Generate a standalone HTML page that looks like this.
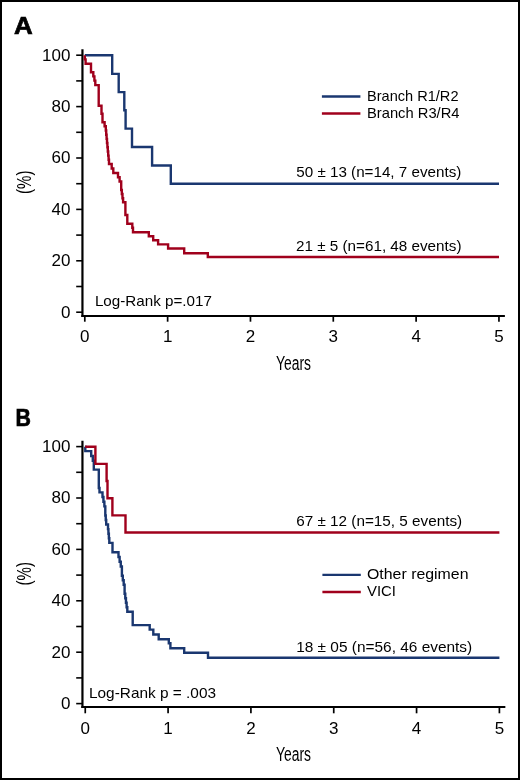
<!DOCTYPE html>
<html><head><meta charset="utf-8"><style>
html,body{margin:0;padding:0;background:#fff;}
body{width:520px;height:780px;overflow:hidden;}
svg{display:block;will-change:transform;}
text{font-family:"Liberation Sans",sans-serif;fill:#000;}
.tk{font-size:17px;}
.an{font-size:14.6px;}
.yr{font-size:19.5px;}
.pc{font-size:16px;}
.pl{font-size:24px;font-weight:bold;stroke:#000;stroke-width:0.7px;}
</style></head><body>
<svg width="520" height="780" viewBox="0 0 520 780">
<rect x="0" y="0" width="520" height="780" fill="#fff"/>
<line x1="82.45" y1="49.30" x2="82.45" y2="316.90" stroke="#000" stroke-width="2.2"/>
<line x1="81.35" y1="315.90" x2="504.90" y2="315.90" stroke="#000" stroke-width="2"/>
<line x1="76.2" y1="312.20" x2="82" y2="312.20" stroke="#000" stroke-width="1.6"/>
<line x1="76.2" y1="286.50" x2="82" y2="286.50" stroke="#000" stroke-width="1.6"/>
<line x1="76.2" y1="260.80" x2="82" y2="260.80" stroke="#000" stroke-width="1.6"/>
<line x1="76.2" y1="235.10" x2="82" y2="235.10" stroke="#000" stroke-width="1.6"/>
<line x1="76.2" y1="209.40" x2="82" y2="209.40" stroke="#000" stroke-width="1.6"/>
<line x1="76.2" y1="183.70" x2="82" y2="183.70" stroke="#000" stroke-width="1.6"/>
<line x1="76.2" y1="158.00" x2="82" y2="158.00" stroke="#000" stroke-width="1.6"/>
<line x1="76.2" y1="132.30" x2="82" y2="132.30" stroke="#000" stroke-width="1.6"/>
<line x1="76.2" y1="106.60" x2="82" y2="106.60" stroke="#000" stroke-width="1.6"/>
<line x1="76.2" y1="80.90" x2="82" y2="80.90" stroke="#000" stroke-width="1.6"/>
<line x1="76.2" y1="55.20" x2="82" y2="55.20" stroke="#000" stroke-width="1.6"/>
<line x1="84.80" y1="315.90" x2="84.80" y2="321.70" stroke="#000" stroke-width="1.7"/>
<line x1="167.63" y1="315.90" x2="167.63" y2="321.70" stroke="#000" stroke-width="1.7"/>
<line x1="250.46" y1="315.90" x2="250.46" y2="321.70" stroke="#000" stroke-width="1.7"/>
<line x1="333.29" y1="315.90" x2="333.29" y2="321.70" stroke="#000" stroke-width="1.7"/>
<line x1="416.12" y1="315.90" x2="416.12" y2="321.70" stroke="#000" stroke-width="1.7"/>
<line x1="498.95" y1="315.90" x2="498.95" y2="321.70" stroke="#000" stroke-width="1.7"/>
<text x="70.4" y="317.60" text-anchor="end" class="tk">0</text>
<text x="70.4" y="266.20" text-anchor="end" class="tk">20</text>
<text x="70.4" y="214.80" text-anchor="end" class="tk">40</text>
<text x="70.4" y="163.40" text-anchor="end" class="tk">60</text>
<text x="70.4" y="112.00" text-anchor="end" class="tk">80</text>
<text x="70.4" y="60.60" text-anchor="end" class="tk">100</text>
<text x="84.80" y="342.30" text-anchor="middle" class="tk">0</text>
<text x="167.63" y="342.30" text-anchor="middle" class="tk">1</text>
<text x="250.46" y="342.30" text-anchor="middle" class="tk">2</text>
<text x="333.29" y="342.30" text-anchor="middle" class="tk">3</text>
<text x="416.12" y="342.30" text-anchor="middle" class="tk">4</text>
<text x="498.95" y="342.30" text-anchor="middle" class="tk">5</text>
<text x="276.00" y="369.50" class="yr" textLength="35" lengthAdjust="spacingAndGlyphs">Years</text>
<text transform="translate(30.6,182.30) rotate(-90) scale(0.94,1.22)" text-anchor="middle" class="pc">(%)</text>
<line x1="82.45" y1="440.70" x2="82.45" y2="708.00" stroke="#000" stroke-width="2.2"/>
<line x1="81.35" y1="707.00" x2="505.35" y2="707.00" stroke="#000" stroke-width="2"/>
<line x1="76.2" y1="703.60" x2="82" y2="703.60" stroke="#000" stroke-width="1.6"/>
<line x1="76.2" y1="677.90" x2="82" y2="677.90" stroke="#000" stroke-width="1.6"/>
<line x1="76.2" y1="652.20" x2="82" y2="652.20" stroke="#000" stroke-width="1.6"/>
<line x1="76.2" y1="626.50" x2="82" y2="626.50" stroke="#000" stroke-width="1.6"/>
<line x1="76.2" y1="600.80" x2="82" y2="600.80" stroke="#000" stroke-width="1.6"/>
<line x1="76.2" y1="575.10" x2="82" y2="575.10" stroke="#000" stroke-width="1.6"/>
<line x1="76.2" y1="549.40" x2="82" y2="549.40" stroke="#000" stroke-width="1.6"/>
<line x1="76.2" y1="523.70" x2="82" y2="523.70" stroke="#000" stroke-width="1.6"/>
<line x1="76.2" y1="498.00" x2="82" y2="498.00" stroke="#000" stroke-width="1.6"/>
<line x1="76.2" y1="472.30" x2="82" y2="472.30" stroke="#000" stroke-width="1.6"/>
<line x1="76.2" y1="446.60" x2="82" y2="446.60" stroke="#000" stroke-width="1.6"/>
<line x1="85.25" y1="707.00" x2="85.25" y2="713.30" stroke="#000" stroke-width="1.7"/>
<line x1="168.08" y1="707.00" x2="168.08" y2="713.30" stroke="#000" stroke-width="1.7"/>
<line x1="250.91" y1="707.00" x2="250.91" y2="713.30" stroke="#000" stroke-width="1.7"/>
<line x1="333.74" y1="707.00" x2="333.74" y2="713.30" stroke="#000" stroke-width="1.7"/>
<line x1="416.57" y1="707.00" x2="416.57" y2="713.30" stroke="#000" stroke-width="1.7"/>
<line x1="499.40" y1="707.00" x2="499.40" y2="713.30" stroke="#000" stroke-width="1.7"/>
<text x="70.4" y="709.00" text-anchor="end" class="tk">0</text>
<text x="70.4" y="657.60" text-anchor="end" class="tk">20</text>
<text x="70.4" y="606.20" text-anchor="end" class="tk">40</text>
<text x="70.4" y="554.80" text-anchor="end" class="tk">60</text>
<text x="70.4" y="503.40" text-anchor="end" class="tk">80</text>
<text x="70.4" y="452.00" text-anchor="end" class="tk">100</text>
<text x="85.25" y="733.70" text-anchor="middle" class="tk">0</text>
<text x="168.08" y="733.70" text-anchor="middle" class="tk">1</text>
<text x="250.91" y="733.70" text-anchor="middle" class="tk">2</text>
<text x="333.74" y="733.70" text-anchor="middle" class="tk">3</text>
<text x="416.57" y="733.70" text-anchor="middle" class="tk">4</text>
<text x="499.40" y="733.70" text-anchor="middle" class="tk">5</text>
<text x="276.00" y="760.90" class="yr" textLength="35" lengthAdjust="spacingAndGlyphs">Years</text>
<text transform="translate(30.6,573.70) rotate(-90) scale(0.94,1.22)" text-anchor="middle" class="pc">(%)</text>
<path d="M84.80 55.30H112.20V73.90H118.70V92.10H124.30V110.20H125.60V128.60H132.00V147.00H152.10V165.50H170.80V183.80H499.00" fill="none" stroke="#1a3770" stroke-width="2.4"/>
<path d="M84.80 55.30V59.40H85.60V63.80H91.00V72.30H93.30V76.40H94.40V80.60H95.30V85.10H98.70V105.80H101.50V113.80H102.50V122.30H104.60V126.30H105.80H105.80V130.49H106.20V134.68H106.60V138.87H107.00V143.06H107.40V147.24H107.80V151.43H108.20V155.62H108.60V159.81H109.00V164.00H111.70V168.50H113.30V173.00H118.00H118.00V177.27H119.60V181.53H121.20V185.80H121.20V189.93H121.83V194.05H122.47V198.18H123.10V202.30H125.40V215.00H127.30V223.80H132.30V227.80H133.00V232.30H148.80V236.20H153.20V240.30H158.10V244.40H168.10V248.50H184.20V253.20H207.80V257.00H499.00" fill="none" stroke="#a0001c" stroke-width="2.4"/>
<path d="M85.20 446.80H85.30V451.10H91.20H91.20V455.95H92.80V460.80H93.80V469.60H98.80V488.00H99.50V492.40H102.50H102.50V497.05H103.43V501.70H104.37V506.35H105.30V511.00H105.30V515.50H105.75V520.00H106.20V524.50H108.00H108.00V529.10H108.43V533.70H108.87V538.30H109.30V542.90H112.50V552.20H118.50H118.50V556.98H119.63V561.75H120.77V566.52H121.90V571.30H121.90V575.77H122.80V580.25H123.70V584.73H124.60V589.20H124.60V593.70H125.27V598.20H125.95V602.70H126.62V607.20H127.30V611.70H132.70V625.10H149.70V629.60H153.30V634.50H158.70V639.20H168.80V643.30H170.40V648.20H184.20V652.80H208.00V657.80H499.40" fill="none" stroke="#1a3770" stroke-width="2.4"/>
<path d="M85.20 446.80H95.40V463.90H106.60V481.00H107.50V498.30H112.40V515.40H125.50V532.50H499.40" fill="none" stroke="#a0001c" stroke-width="2.4"/>
<text transform="translate(14.0,33.6) scale(1.08,1)" x="0" y="0" class="pl">A</text>
<text transform="translate(15.5,426.1) scale(0.89,1)" x="0" y="0" class="pl">B</text>
<line x1="321.9" y1="96.45" x2="360.4" y2="96.45" stroke="#1a3770" stroke-width="2.4"/>
<line x1="321.9" y1="113.5" x2="360.4" y2="113.5" stroke="#a0001c" stroke-width="2.4"/>
<text x="367.0" y="100.8" class="an" textLength="91.5" lengthAdjust="spacingAndGlyphs">Branch R1/R2</text>
<text x="367.0" y="118.1" class="an" textLength="92.5" lengthAdjust="spacingAndGlyphs">Branch R3/R4</text>
<text x="296.3" y="177.3" class="an" textLength="165" lengthAdjust="spacingAndGlyphs">50 ± 13 (n=14, 7 events)</text>
<text x="296.0" y="251.0" class="an" textLength="165.5" lengthAdjust="spacingAndGlyphs">21 ± 5 (n=61, 48 events)</text>
<text x="94.9" y="305.9" class="an" textLength="117" lengthAdjust="spacingAndGlyphs">Log-Rank p=.017</text>
<line x1="322.4" y1="574.9" x2="360.8" y2="574.9" stroke="#1a3770" stroke-width="2.4"/>
<line x1="322.4" y1="592.0" x2="360.8" y2="592.0" stroke="#a0001c" stroke-width="2.4"/>
<text x="367.0" y="579.2" class="an" textLength="101.5" lengthAdjust="spacingAndGlyphs">Other regimen</text>
<text x="367.0" y="596.2" class="an" textLength="29" lengthAdjust="spacingAndGlyphs">VICI</text>
<text x="296.2" y="526.3" class="an" textLength="166" lengthAdjust="spacingAndGlyphs">67 ± 12 (n=15, 5 events)</text>
<text x="296.2" y="651.6" class="an" textLength="176" lengthAdjust="spacingAndGlyphs">18 ± 05 (n=56, 46 events)</text>
<text x="89.0" y="697.5" class="an" textLength="127" lengthAdjust="spacingAndGlyphs">Log-Rank p = .003</text>
<rect x="1" y="1" width="518" height="778" fill="none" stroke="#000" stroke-width="2"/>
</svg>
</body></html>
